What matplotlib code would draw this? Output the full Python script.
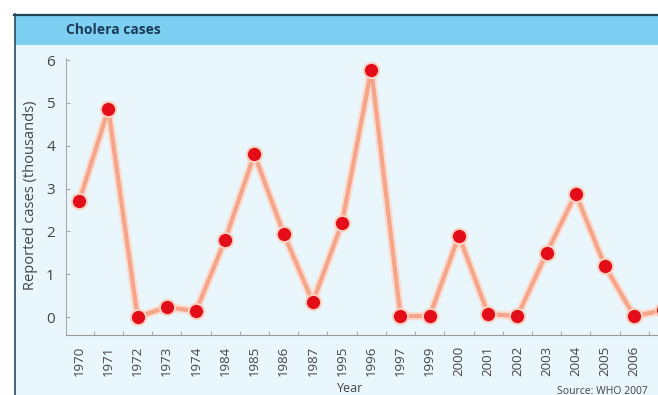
import matplotlib.pyplot as plt
from matplotlib.patches import Rectangle
from matplotlib.lines import Line2D
import numpy as np

years = ['1970', '1971', '1972', '1973', '1974', '1984', '1985', '1986', '1987', '1995',
         '1996', '1997', '1999', '2000', '2001', '2002', '2003', '2004', '2005', '2006', '2007']
cases = [2.70, 4.85, 0.0, 0.23, 0.14, 1.81, 3.80, 1.95, 0.35, 2.20,
         5.78, 0.02, 0.02, 1.90, 0.07, 0.02, 1.49, 2.88, 1.19, 0.02, 0.16]

W, H = 658, 395
fig = plt.figure(figsize=(W / 100, H / 100), dpi=100)
fig.patch.set_facecolor('white')

def fx(px):
    return px / W

def fy(py):
    return 1 - py / H

# background panel and title band
fig.patches.append(Rectangle((fx(15), 0), 1, fy(45), transform=fig.transFigure,
                             facecolor='#e9f6fc', edgecolor='none', zorder=-5))
fig.patches.append(Rectangle((fx(15), fy(45)), 1, fy(15) - fy(45), transform=fig.transFigure,
                             facecolor='#7dd0f2', edgecolor='none', zorder=-5))
fig.lines.append(Line2D([fx(14), 1], [fy(14.5), fy(14.5)], transform=fig.transFigure,
                        color='#1e4656', lw=1.6, zorder=-4))
fig.lines.append(Line2D([fx(14.5), fx(14.5)], [0, fy(14)], transform=fig.transFigure,
                        color='#2a4a5a', lw=1.2, zorder=-4))
fig.text(fx(66), fy(30), 'Cholera cases', fontsize=10, fontweight='bold',
         color='#1d3b57', va='center', ha='left', family='Open Sans')

ax = fig.add_axes([fx(66), fy(335), fx(678) - fx(66), fy(55) - fy(335)])
ax.set_zorder(2)
ax.set_facecolor('none')

x = np.arange(len(years))
ax.plot(x, cases, color='#fcdcd0', lw=6, solid_joinstyle='round', zorder=2, clip_on=False)
ax.plot(x, cases, color='#f5a58a', lw=3, solid_joinstyle='round', zorder=3, clip_on=False)
ax.plot(x, cases, 'o', color='#e20d18', markersize=11, markeredgecolor='#fbd0c0',
        markeredgewidth=1.5, zorder=4, clip_on=False)

ax.set_xlim(-0.45, 20.5)
ax.set_ylim(-0.42, 6.12)
ax.set_yticks(range(0, 7))
ax.set_xticks(x)
ax.set_xticklabels(years, rotation=90, fontsize=9.5, color='#444444', family='Open Sans')
ax.set_xticks(x[:-1] + 0.5, minor=True)
ax.tick_params(axis='x', which='major', length=0, pad=8)
ax.tick_params(axis='x', which='minor', direction='in', length=3, color='#999999')
ax.tick_params(axis='y', direction='in', length=3, color='#aaaaaa', labelsize=11,
               labelcolor='#444444', pad=8)
for lab in ax.get_yticklabels():
    lab.set_family('Open Sans')

for s in ['top', 'right']:
    ax.spines[s].set_visible(False)
ax.spines['left'].set_color('#aaaaaa')
ax.spines['bottom'].set_color('#999999')
ax.spines['left'].set_bounds(-0.42, 6.05)

ax.set_ylabel('Reported cases (thousands)', fontsize=10.5, color='#444444',
              family='Open Sans', labelpad=6)

fig.text(fx(350), fy(389), 'Year', fontsize=9, color='#444444', ha='center',
         va='center', family='Open Sans')
fig.text(fx(557), fy(391), 'Source: WHO 2007', fontsize=7.5, color='#444444', ha='left',
         va='center', family='Open Sans')

fig.savefig('out.png', dpi=100)
